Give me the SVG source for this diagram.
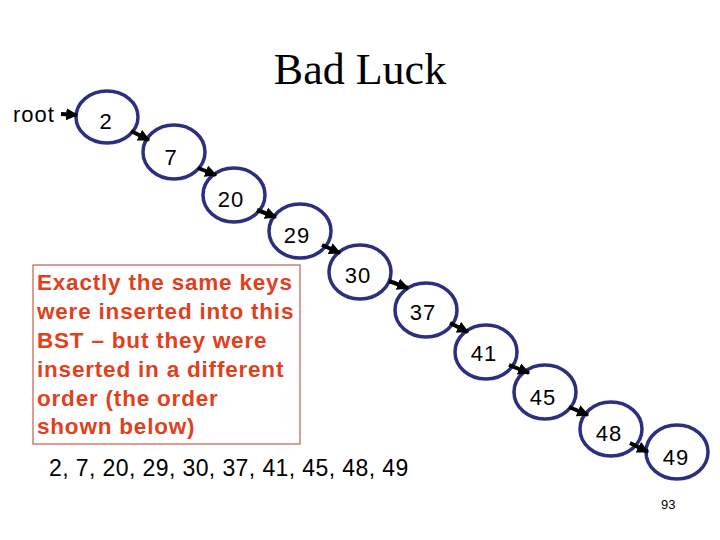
<svg xmlns="http://www.w3.org/2000/svg" width="720" height="540" viewBox="0 0 720 540">
<style>
.node ellipse{fill:#fff;stroke:#2E2E80;stroke-width:3.5}
.node text{font-family:"Liberation Sans",Arial,sans-serif;font-size:22px;fill:#000;text-anchor:middle;letter-spacing:1px}
.conn line{stroke:#000;stroke-width:4;marker-end:url(#ah)}
.note{font-family:"Liberation Sans",Arial,sans-serif;font-size:22.5px;font-weight:bold;fill:#E2401C;letter-spacing:0.8px}
</style>
<defs>
<marker id="ah" viewBox="0 0 10 10" refX="9" refY="5" markerWidth="3" markerHeight="3" orient="auto" markerUnits="strokeWidth">
<path d="M0,0 L10,5 L0,10 z" fill="#000"/>
</marker>
</defs>
<rect width="720" height="540" fill="#fff"/>
<text x="360" y="84" font-family="'Liberation Serif','Times New Roman',serif" font-size="44" text-anchor="middle">Bad Luck</text>
<text x="13" y="122" font-family="'Liberation Sans',Arial,sans-serif" font-size="22" letter-spacing="1">root</text>

<g id="note">
<rect x="33" y="265" width="267" height="179" fill="none" stroke="#C0604A" stroke-width="1.2"/>
<text class="note" x="37" y="290">Exactly the same keys</text>
<text class="note" x="37" y="319">were inserted into this</text>
<text class="note" x="37" y="348">BST – but they were</text>
<text class="note" x="37" y="377">inserted in a different</text>
<text class="note" x="37" y="406">order (the order</text>
<text class="note" x="37" y="434">shown below)</text>
</g>

<g id="n2" class="node"><ellipse cx="107" cy="117" rx="31" ry="26"/><text x="106" y="129">2</text></g>
<g id="n7" class="node"><ellipse cx="174" cy="152" rx="31" ry="27"/><text x="171" y="165">7</text></g>
<g id="n20" class="node"><ellipse cx="234" cy="195" rx="31" ry="27"/><text x="231" y="207">20</text></g>
<g id="n29" class="node"><ellipse cx="300" cy="231" rx="31" ry="27"/><text x="297" y="243">29</text></g>
<g id="n30" class="node"><ellipse cx="360" cy="272" rx="31" ry="27"/><text x="358" y="283">30</text></g>
<g id="n37" class="node"><ellipse cx="426" cy="310" rx="31" ry="27"/><text x="423" y="320">37</text></g>
<g id="n41" class="node"><ellipse cx="486" cy="352" rx="31" ry="27"/><text x="484" y="361">41</text></g>
<g id="n45" class="node"><ellipse cx="545" cy="392" rx="31" ry="27"/><text x="543" y="405">45</text></g>
<g id="n48" class="node"><ellipse cx="611" cy="429" rx="31" ry="27"/><text x="609" y="441">48</text></g>
<g id="n49" class="node"><ellipse cx="677" cy="452" rx="31" ry="27"/><text x="676" y="465">49</text></g>

<g id="connectors" class="conn">
<line x1="61" y1="114" x2="77" y2="115"/>
<line x1="131" y1="131" x2="149" y2="140"/>
<line x1="198" y1="168" x2="216" y2="175"/>
<line x1="257" y1="210" x2="276" y2="217"/>
<line x1="322" y1="245" x2="340" y2="253"/>
<line x1="389" y1="281" x2="408" y2="288"/>
<line x1="450" y1="323" x2="468" y2="332"/>
<line x1="509" y1="365" x2="529" y2="373"/>
<line x1="569" y1="407" x2="588" y2="415"/>
<line x1="630" y1="443" x2="648" y2="452"/>
</g>

<text x="49" y="476" font-family="'Liberation Sans',Arial,sans-serif" font-size="23" letter-spacing="0.4">2, 7, 20, 29, 30, 37, 41, 45, 48, 49</text>
<text x="661" y="509" font-family="'Liberation Sans',Arial,sans-serif" font-size="13">93</text>
</svg>
